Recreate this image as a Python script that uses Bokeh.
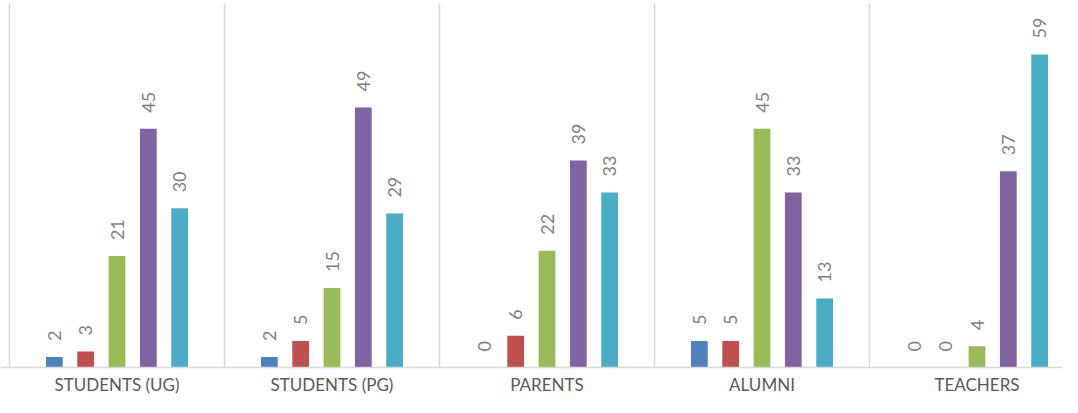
import math
from bokeh.plotting import figure
from bokeh.models import FixedTicker, Range1d, ColumnDataSource
from bokeh.core.properties import value
from bokeh.embed import file_html
from bokeh.resources import INLINE

categories = ["STUDENTS (UG)", "STUDENTS (PG)", "PARENTS", "ALUMNI", "TEACHERS"]
series_names = ["Strongly disagree", "Disagree", "Neutral", "Agree", "Strongly agree"]
s1 = [2, 2, 0, 5, 0]
s2 = [3, 5, 6, 5, 0]
s3 = [21, 15, 22, 45, 4]
s4 = [45, 49, 39, 33, 37]
s5 = [30, 29, 33, 13, 59]
series = [s1, s2, s3, s4, s5]
colors = ["#4f81bd", "#c0504d", "#9bbb59", "#8064a2", "#4bacc6"]

W, H = 1062, 397
cat_px = 215.0
x0 = -9 / cat_px
p = figure(width=W, height=H, output_backend="svg", toolbar_location=None,
           x_range=Range1d(x0, x0 + W / cat_px), y_range=Range1d(0, 68.6),
           min_border_left=0, min_border_right=0, min_border_top=3, min_border_bottom=0)
p.outline_line_color = None
p.background_fill_color = "white"
p.border_fill_color = "white"

offset = 0.1457
bw = 0.078
for j, (vals, col) in enumerate(zip(series, colors)):
    xs = [i + 0.5 + (j - 2) * offset for i in range(len(categories))]
    src = ColumnDataSource(dict(x=xs, top=vals, lab=[str(v) for v in vals]))
    p.vbar(x="x", top="top", bottom=0, width=bw, source=src, fill_color=col, line_color=None)
    p.text(x="x", y="top", text="lab", source=src, angle=math.pi / 2,
           text_align="left", text_baseline="middle", y_offset=-16,
           text_font=value("Lato"), text_font_size="18px", text_color="#7f7f7f")

p.yaxis.visible = False
p.ygrid.visible = False
p.xgrid.ticker = FixedTicker(ticks=[0, 1, 2, 3, 4, 5])
p.xgrid.grid_line_color = "#d9d9d9"
p.xgrid.grid_line_width = 1.5

p.xaxis.ticker = FixedTicker(ticks=[i + 0.5 for i in range(len(categories))])
p.xaxis.major_label_overrides = {i + 0.5: c for i, c in enumerate(categories)}
p.xaxis.major_tick_line_color = None
p.xaxis.minor_tick_line_color = None
p.xaxis.major_tick_out = 0
p.xaxis.major_tick_in = 0
p.xaxis.axis_line_color = "#d9d9d9"
p.xaxis.axis_line_width = 1.5
p.xaxis.major_label_standoff = 6
p.xaxis.major_label_text_font = "Lato"
p.xaxis.major_label_text_font_size = "17px"
p.xaxis.major_label_text_color = "#595959"

open("out.html", "w").write(file_html(p, INLINE))
